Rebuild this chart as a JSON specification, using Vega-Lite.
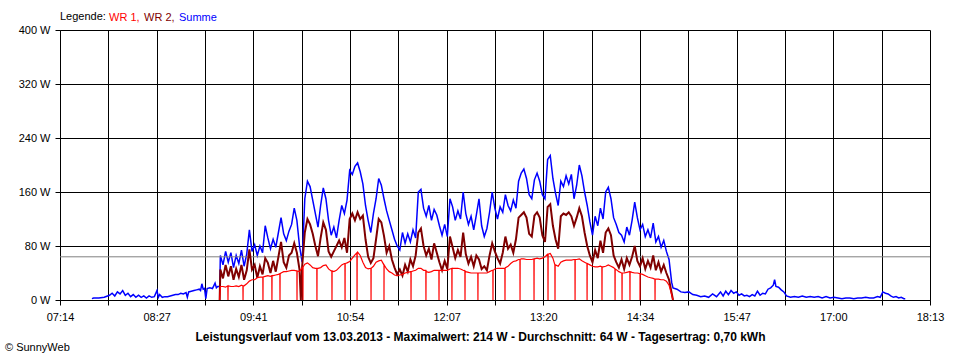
{
 "$schema": "https://vega.github.io/schema/vega-lite/v6.json",
 "width": 870, "height": 270,
 "autosize": "none",
 "padding": {"left": 60, "top": 30, "right": 30, "bottom": 60},
 "background": "white",
 "config": {
  "font": "Liberation Sans",
  "view": {"stroke": null},
  "axis": {"gridColor": "black", "gridOpacity": 1, "gridWidth": 1, "domainColor": "black", "domainWidth": 1, "tickColor": "black", "tickSize": 5, "labelColor": "black", "titleColor": "black", "labelFontSize": 11, "labelFont": "Liberation Sans", "titleFont": "Liberation Sans", "zindex": 1}
 },
 "title": {"text": "© SunnyWeb", "orient": "bottom", "anchor": "start", "frame": "group", "dx": -55, "fontSize": 11, "fontWeight": "normal", "color": "black", "font": "Liberation Sans", "offset": 0},
 "datasets": {
  "sum": [
   {"t":458.7,"v":2},{"t":460,"v":3},{"t":464,"v":3},{"t":468,"v":4},{"t":472,"v":7},{"t":474,"v":10},{"t":476,"v":6},{"t":478,"v":12},{"t":480,"v":9},{"t":482,"v":14},{"t":484,"v":7},{"t":486,"v":10},{"t":488,"v":5},{"t":490,"v":8},{"t":492,"v":4},{"t":494,"v":7},{"t":496,"v":4},{"t":498,"v":6},{"t":500,"v":3},{"t":502,"v":6},{"t":504,"v":4},{"t":506,"v":5},{"t":508,"v":14},{"t":509,"v":4},{"t":510,"v":8},{"t":512,"v":4},{"t":514,"v":5},{"t":516,"v":5},{"t":518,"v":6},{"t":520,"v":7},{"t":522,"v":8},{"t":524,"v":8},{"t":526,"v":10},{"t":528,"v":9},{"t":530,"v":11},{"t":531,"v":4},{"t":532,"v":12},{"t":534,"v":13},{"t":536,"v":14},{"t":538,"v":15},{"t":540,"v":16},{"t":541,"v":14},{"t":542,"v":24},{"t":543,"v":16},{"t":544,"v":17},{"t":545,"v":2},{"t":546,"v":17},{"t":548,"v":18},{"t":550,"v":17},{"t":552,"v":25},{"t":553,"v":18},{"t":554,"v":20},{"t":555.6,"v":20},
   {"t":556,"v":66},{"t":558,"v":52},{"t":560,"v":72},{"t":562,"v":56},{"t":564,"v":70},{"t":566,"v":48},{"t":568,"v":66},{"t":570,"v":54},{"t":572,"v":74},{"t":574,"v":50},{"t":576,"v":68},{"t":578,"v":104},{"t":580,"v":72},{"t":582,"v":82},{"t":584,"v":66},{"t":586,"v":80},{"t":588,"v":70},{"t":590,"v":110},{"t":592,"v":92},{"t":594,"v":76},{"t":596,"v":90},{"t":598,"v":78},{"t":600,"v":100},{"t":602,"v":122},{"t":604,"v":98},{"t":606,"v":88},{"t":608,"v":102},{"t":610,"v":112},{"t":612,"v":136},{"t":614,"v":118},{"t":616,"v":80},{"t":618,"v":56},{"t":620,"v":150},{"t":622,"v":176},{"t":624,"v":168},{"t":626,"v":148},{"t":628,"v":128},{"t":630,"v":108},{"t":632,"v":140},{"t":634,"v":166},{"t":636,"v":150},{"t":638,"v":118},{"t":640,"v":96},{"t":642,"v":108},{"t":644,"v":92},{"t":646,"v":118},{"t":648,"v":140},{"t":650,"v":128},{"t":652,"v":148},{"t":654,"v":192},{"t":656,"v":186},{"t":658,"v":198},{"t":660,"v":203},{"t":662,"v":190},{"t":664,"v":172},{"t":666,"v":140},{"t":668,"v":118},{"t":670,"v":100},{"t":672,"v":128},{"t":674,"v":150},{"t":676,"v":180},{"t":678,"v":170},{"t":680,"v":150},{"t":682,"v":132},{"t":684,"v":118},{"t":686,"v":104},{"t":688,"v":90},{"t":690,"v":80},{"t":692,"v":74},{"t":694,"v":100},{"t":696,"v":84},{"t":698,"v":98},{"t":700,"v":86},{"t":702,"v":104},{"t":704,"v":92},{"t":706,"v":160},{"t":708,"v":164},{"t":710,"v":136},{"t":712,"v":124},{"t":714,"v":140},{"t":716,"v":118},{"t":718,"v":134},{"t":720,"v":126},{"t":722,"v":110},{"t":724,"v":96},{"t":726,"v":112},{"t":728,"v":94},{"t":730,"v":150},{"t":732,"v":138},{"t":734,"v":118},{"t":736,"v":132},{"t":738,"v":120},{"t":740,"v":160},{"t":742,"v":128},{"t":744,"v":112},{"t":746,"v":124},{"t":748,"v":104},{"t":750,"v":126},{"t":752,"v":150},{"t":754,"v":110},{"t":756,"v":94},{"t":758,"v":106},{"t":760,"v":130},{"t":762,"v":160},{"t":764,"v":136},{"t":766,"v":120},{"t":768,"v":138},{"t":770,"v":130},{"t":772,"v":156},{"t":774,"v":140},{"t":776,"v":132},{"t":778,"v":148},{"t":780,"v":136},{"t":782,"v":176},{"t":784,"v":188},{"t":786,"v":194},{"t":788,"v":180},{"t":790,"v":156},{"t":792,"v":150},{"t":794,"v":178},{"t":796,"v":188},{"t":798,"v":176},{"t":800,"v":156},{"t":802,"v":150},{"t":804,"v":208},{"t":806,"v":214},{"t":808,"v":180},{"t":810,"v":158},{"t":812,"v":140},{"t":814,"v":176},{"t":816,"v":168},{"t":818,"v":184},{"t":820,"v":172},{"t":822,"v":186},{"t":824,"v":150},{"t":826,"v":170},{"t":828,"v":200},{"t":830,"v":184},{"t":832,"v":160},{"t":834,"v":140},{"t":836,"v":116},{"t":838,"v":96},{"t":840,"v":124},{"t":842,"v":110},{"t":844,"v":136},{"t":846,"v":120},{"t":848,"v":160},{"t":850,"v":167},{"t":852,"v":150},{"t":854,"v":122},{"t":856,"v":112},{"t":858,"v":100},{"t":860,"v":96},{"t":862,"v":86},{"t":864,"v":108},{"t":866,"v":96},{"t":868,"v":118},{"t":870,"v":145},{"t":872,"v":122},{"t":874,"v":104},{"t":876,"v":112},{"t":878,"v":94},{"t":880,"v":104},{"t":882,"v":92},{"t":884,"v":114},{"t":886,"v":86},{"t":888,"v":94},{"t":890,"v":78},{"t":892,"v":88},{"t":894,"v":72},{"t":896,"v":60},{"t":898,"v":26},
   {"t":899,"v":18},{"t":902,"v":16},{"t":905,"v":12},{"t":908,"v":11},{"t":911,"v":12},{"t":914,"v":8},{"t":917,"v":7},{"t":920,"v":5},{"t":923,"v":6},{"t":926,"v":4},{"t":929,"v":9},{"t":932,"v":5},{"t":935,"v":12},{"t":937,"v":6},{"t":939,"v":13},{"t":941,"v":8},{"t":943,"v":14},{"t":945,"v":10},{"t":947,"v":12},{"t":949,"v":7},{"t":951,"v":9},{"t":953,"v":6},{"t":955,"v":7},{"t":957,"v":5},{"t":959,"v":8},{"t":961,"v":6},{"t":963,"v":13},{"t":965,"v":7},{"t":967,"v":10},{"t":969,"v":9},{"t":971,"v":16},{"t":973,"v":18},{"t":975,"v":22},{"t":976,"v":30},{"t":977,"v":20},{"t":979,"v":19},{"t":981,"v":15},{"t":983,"v":12},{"t":985,"v":6},{"t":988,"v":4},{"t":991,"v":5},{"t":994,"v":4},{"t":997,"v":6},{"t":1000,"v":4},{"t":1003,"v":5},{"t":1006,"v":4},{"t":1009,"v":5},{"t":1012,"v":3},{"t":1015,"v":5},{"t":1018,"v":3},{"t":1021,"v":4},{"t":1024,"v":3},{"t":1027,"v":2},{"t":1030,"v":3},{"t":1033,"v":3},{"t":1036,"v":2},{"t":1039,"v":3},{"t":1042,"v":3},{"t":1045,"v":4},{"t":1048,"v":3},{"t":1051,"v":3},{"t":1054,"v":5},{"t":1056,"v":4},{"t":1057,"v":8},{"t":1058,"v":12},{"t":1060,"v":10},{"t":1062,"v":9},{"t":1064,"v":6},{"t":1066,"v":4},{"t":1068,"v":5},{"t":1070,"v":3},{"t":1072,"v":4},{"t":1074,"v":2},{"t":1075,"v":2}
  ],
  "wr2": [
   {"t":555.5,"v":0},
   {"t":556,"v":45},{"t":558,"v":32},{"t":560,"v":52},{"t":562,"v":35},{"t":564,"v":50},{"t":566,"v":30},{"t":568,"v":46},{"t":570,"v":34},{"t":572,"v":52},{"t":574,"v":30},{"t":576,"v":44},{"t":578,"v":75},{"t":580,"v":45},{"t":582,"v":52},{"t":584,"v":33},{"t":586,"v":50},{"t":588,"v":38},{"t":590,"v":62},{"t":592,"v":55},{"t":594,"v":40},{"t":596,"v":58},{"t":598,"v":42},{"t":600,"v":64},{"t":602,"v":86},{"t":604,"v":56},{"t":606,"v":48},{"t":608,"v":66},{"t":610,"v":70},{"t":612,"v":84},{"t":614,"v":70},{"t":616,"v":45},{"t":617,"v":0},{"t":618,"v":50},{"t":620,"v":100},{"t":622,"v":120},{"t":624,"v":112},{"t":626,"v":98},{"t":628,"v":80},{"t":630,"v":65},{"t":632,"v":92},{"t":634,"v":115},{"t":636,"v":104},{"t":638,"v":72},{"t":640,"v":64},{"t":642,"v":72},{"t":644,"v":80},{"t":646,"v":88},{"t":648,"v":78},{"t":650,"v":92},{"t":652,"v":70},{"t":654,"v":120},{"t":656,"v":128},{"t":658,"v":118},{"t":660,"v":130},{"t":662,"v":120},{"t":664,"v":125},{"t":666,"v":90},{"t":668,"v":64},{"t":670,"v":55},{"t":672,"v":62},{"t":674,"v":90},{"t":676,"v":120},{"t":678,"v":115},{"t":680,"v":95},{"t":682,"v":70},{"t":684,"v":80},{"t":686,"v":60},{"t":688,"v":48},{"t":690,"v":38},{"t":692,"v":45},{"t":694,"v":36},{"t":696,"v":52},{"t":698,"v":42},{"t":700,"v":60},{"t":702,"v":50},{"t":704,"v":66},{"t":706,"v":100},{"t":708,"v":106},{"t":710,"v":80},{"t":712,"v":66},{"t":714,"v":76},{"t":716,"v":60},{"t":718,"v":84},{"t":720,"v":70},{"t":722,"v":56},{"t":724,"v":44},{"t":726,"v":58},{"t":728,"v":46},{"t":730,"v":94},{"t":732,"v":78},{"t":734,"v":62},{"t":736,"v":74},{"t":738,"v":64},{"t":740,"v":100},{"t":742,"v":68},{"t":744,"v":54},{"t":746,"v":64},{"t":748,"v":50},{"t":750,"v":66},{"t":752,"v":60},{"t":754,"v":46},{"t":756,"v":50},{"t":758,"v":44},{"t":760,"v":66},{"t":762,"v":84},{"t":764,"v":72},{"t":766,"v":62},{"t":768,"v":54},{"t":770,"v":70},{"t":772,"v":94},{"t":774,"v":76},{"t":776,"v":82},{"t":778,"v":70},{"t":780,"v":90},{"t":782,"v":122},{"t":784,"v":126},{"t":786,"v":130},{"t":788,"v":122},{"t":790,"v":98},{"t":792,"v":94},{"t":794,"v":125},{"t":796,"v":130},{"t":798,"v":122},{"t":800,"v":96},{"t":802,"v":86},{"t":804,"v":138},{"t":806,"v":142},{"t":808,"v":110},{"t":810,"v":90},{"t":812,"v":76},{"t":814,"v":124},{"t":816,"v":128},{"t":818,"v":126},{"t":820,"v":130},{"t":822,"v":124},{"t":824,"v":110},{"t":826,"v":122},{"t":828,"v":136},{"t":830,"v":124},{"t":832,"v":100},{"t":834,"v":80},{"t":836,"v":66},{"t":838,"v":56},{"t":840,"v":74},{"t":842,"v":62},{"t":844,"v":88},{"t":846,"v":70},{"t":848,"v":100},{"t":850,"v":106},{"t":852,"v":96},{"t":854,"v":66},{"t":856,"v":56},{"t":858,"v":48},{"t":860,"v":60},{"t":862,"v":46},{"t":864,"v":62},{"t":866,"v":52},{"t":868,"v":64},{"t":870,"v":80},{"t":872,"v":58},{"t":874,"v":50},{"t":876,"v":62},{"t":878,"v":46},{"t":880,"v":58},{"t":882,"v":48},{"t":884,"v":66},{"t":886,"v":44},{"t":888,"v":56},{"t":890,"v":42},{"t":892,"v":52},{"t":894,"v":40},{"t":896,"v":30},{"t":898,"v":10},{"t":899,"v":0}
  ],
  "wr1": [
   {"t":555.5,"v":0},
   {"t":556,"v":20},{"t":558,"v":20},{"t":560,"v":19},{"t":562,"v":21},{"t":564,"v":20},{"t":566,"v":20},{"t":568,"v":21},{"t":570,"v":20},{"t":572,"v":22},{"t":574,"v":21},{"t":576,"v":24},{"t":578,"v":28},{"t":580,"v":30},{"t":582,"v":30},{"t":584,"v":33},{"t":586,"v":34},{"t":588,"v":34},{"t":590,"v":35},{"t":592,"v":36},{"t":594,"v":35},{"t":596,"v":36},{"t":598,"v":37},{"t":600,"v":38},{"t":602,"v":40},{"t":604,"v":42},{"t":606,"v":42},{"t":608,"v":43},{"t":610,"v":44},{"t":612,"v":44},{"t":614,"v":43},{"t":616,"v":42},{"t":618,"v":48},{"t":620,"v":53},{"t":622,"v":55},{"t":624,"v":52},{"t":626,"v":48},{"t":628,"v":47},{"t":630,"v":47},{"t":632,"v":48},{"t":634,"v":51},{"t":636,"v":52},{"t":638,"v":46},{"t":640,"v":43},{"t":642,"v":42},{"t":644,"v":44},{"t":646,"v":48},{"t":648,"v":52},{"t":650,"v":54},{"t":652,"v":55},{"t":654,"v":57},{"t":656,"v":62},{"t":658,"v":67},{"t":660,"v":71},{"t":662,"v":66},{"t":664,"v":56},{"t":666,"v":48},{"t":668,"v":46},{"t":670,"v":47},{"t":672,"v":50},{"t":674,"v":56},{"t":676,"v":58},{"t":678,"v":59},{"t":680,"v":52},{"t":682,"v":46},{"t":684,"v":42},{"t":686,"v":40},{"t":688,"v":37},{"t":690,"v":36},{"t":692,"v":37},{"t":694,"v":38},{"t":696,"v":40},{"t":698,"v":41},{"t":700,"v":42},{"t":702,"v":43},{"t":704,"v":44},{"t":706,"v":47},{"t":708,"v":47},{"t":710,"v":44},{"t":712,"v":42},{"t":714,"v":41},{"t":716,"v":42},{"t":718,"v":44},{"t":720,"v":44},{"t":722,"v":44},{"t":724,"v":44},{"t":726,"v":44},{"t":728,"v":44},{"t":730,"v":46},{"t":732,"v":47},{"t":734,"v":47},{"t":736,"v":47},{"t":738,"v":46},{"t":740,"v":44},{"t":742,"v":42},{"t":744,"v":41},{"t":746,"v":40},{"t":748,"v":40},{"t":750,"v":40},{"t":752,"v":40},{"t":754,"v":40},{"t":756,"v":40},{"t":758,"v":40},{"t":760,"v":42},{"t":762,"v":44},{"t":764,"v":46},{"t":766,"v":47},{"t":768,"v":47},{"t":770,"v":47},{"t":772,"v":48},{"t":774,"v":50},{"t":776,"v":54},{"t":778,"v":57},{"t":780,"v":58},{"t":782,"v":60},{"t":784,"v":61},{"t":786,"v":61},{"t":788,"v":60},{"t":790,"v":60},{"t":792,"v":60},{"t":794,"v":61},{"t":796,"v":62},{"t":798,"v":61},{"t":800,"v":62},{"t":802,"v":64},{"t":804,"v":68},{"t":806,"v":69},{"t":808,"v":62},{"t":810,"v":52},{"t":812,"v":50},{"t":814,"v":56},{"t":816,"v":58},{"t":818,"v":59},{"t":820,"v":59},{"t":822,"v":59},{"t":824,"v":60},{"t":826,"v":60},{"t":828,"v":61},{"t":830,"v":58},{"t":832,"v":56},{"t":834,"v":54},{"t":836,"v":52},{"t":838,"v":50},{"t":840,"v":49},{"t":842,"v":49},{"t":844,"v":50},{"t":846,"v":49},{"t":848,"v":50},{"t":850,"v":52},{"t":852,"v":50},{"t":854,"v":48},{"t":856,"v":45},{"t":858,"v":42},{"t":860,"v":40},{"t":862,"v":40},{"t":864,"v":41},{"t":866,"v":42},{"t":868,"v":41},{"t":870,"v":40},{"t":872,"v":40},{"t":874,"v":39},{"t":876,"v":38},{"t":878,"v":36},{"t":880,"v":34},{"t":882,"v":33},{"t":884,"v":32},{"t":886,"v":31},{"t":888,"v":31},{"t":890,"v":30},{"t":892,"v":30},{"t":894,"v":28},{"t":896,"v":22},{"t":898,"v":8},{"t":899,"v":0},
   {"t":561.7,"v":21},{"t":561.8,"v":0},{"t":561.9,"v":21},
   {"t":573.1,"v":21},{"t":573.2,"v":0},{"t":573.3,"v":21},
   {"t":588.2,"v":34},{"t":588.3,"v":0},{"t":588.4,"v":34},
   {"t":595.0,"v":36},{"t":595.1,"v":0},{"t":595.2,"v":36},
   {"t":601.1,"v":39},{"t":601.2,"v":0},{"t":601.3,"v":39},
   {"t":614.0,"v":43},{"t":614.1,"v":0},{"t":614.2,"v":43},
   {"t":618.5,"v":49},{"t":618.6,"v":0},{"t":618.7,"v":49},
   {"t":629.1,"v":47},{"t":629.2,"v":0},{"t":629.3,"v":47},
   {"t":640.5,"v":43},{"t":640.6,"v":0},{"t":640.7,"v":43},
   {"t":650.4,"v":54},{"t":650.5,"v":0},{"t":650.6,"v":54},
   {"t":659.5,"v":70},{"t":659.6,"v":0},{"t":659.7,"v":70},
   {"t":670.1,"v":47},{"t":670.2,"v":0},{"t":670.3,"v":47},
   {"t":679.9,"v":52},{"t":680.0,"v":0},{"t":680.1,"v":52},
   {"t":700.4,"v":42},{"t":700.5,"v":0},{"t":700.6,"v":42},
   {"t":711.7,"v":44},{"t":711.8,"v":0},{"t":711.9,"v":44},
   {"t":721.6,"v":44},{"t":721.7,"v":0},{"t":721.8,"v":44},
   {"t":731.4,"v":47},{"t":731.5,"v":0},{"t":731.6,"v":47},
   {"t":741.3,"v":43},{"t":741.4,"v":0},{"t":741.5,"v":43},
   {"t":751.1,"v":40},{"t":751.2,"v":0},{"t":751.3,"v":40},
   {"t":762.5,"v":44},{"t":762.6,"v":0},{"t":762.7,"v":44},
   {"t":771.6,"v":47},{"t":771.7,"v":0},{"t":771.8,"v":47},
   {"t":783.0,"v":60},{"t":783.1,"v":0},{"t":783.2,"v":60},
   {"t":793.6,"v":61},{"t":793.7,"v":0},{"t":793.8,"v":61},
   {"t":804.2,"v":68},{"t":804.3,"v":0},{"t":804.4,"v":68},
   {"t":809.5,"v":52},{"t":809.6,"v":0},{"t":809.7,"v":52},
   {"t":824.7,"v":60},{"t":824.8,"v":0},{"t":824.9,"v":60},
   {"t":833.8,"v":54},{"t":833.9,"v":0},{"t":834.0,"v":54},
   {"t":845.1,"v":49},{"t":845.2,"v":0},{"t":845.3,"v":49},
   {"t":855.0,"v":46},{"t":855.1,"v":0},{"t":855.2,"v":46},
   {"t":860.3,"v":40},{"t":860.4,"v":0},{"t":860.5,"v":40},
   {"t":866.3,"v":42},{"t":866.4,"v":0},{"t":866.5,"v":42},
   {"t":873.9,"v":39},{"t":874.0,"v":0},{"t":874.1,"v":39},
   {"t":885.3,"v":31},{"t":885.4,"v":0},{"t":885.5,"v":31}
  ]
 },
 "layer": [
  {
   "data": {"name": "sum"},
   "mark": {"type": "line", "strokeWidth": 1.5, "interpolate": "linear"},
   "encoding": {
    "x": {"field": "t", "type": "quantitative", "scale": {"domain": [434.5, 1093.75], "nice": false, "zero": false},
     "axis": {"values": [434.5, 471.125, 507.75, 544.375, 581, 617.625, 654.25, 690.875, 727.5, 764.125, 800.75, 837.375, 874, 910.625, 947.25, 983.875, 1020.5, 1057.125, 1093.75],
      "labelExpr": "(round((datum.value-434.5)/36.625) % 2 == 1) ? '' : (floor(datum.value/60) < 10 ? '0' : '') + floor(datum.value/60) + ':' + (floor(datum.value%60) < 10 ? '0' : '') + floor(datum.value%60)",
      "grid": true, "labelFlush": false, "labelOverlap": false, "labelPadding": 6,
      "title": "Leistungsverlauf vom 13.03.2013 - Maximalwert: 214 W - Durchschnitt: 64 W - Tagesertrag: 0,70 kWh",
      "titleFontWeight": "bold", "titleFontSize": 12, "titleX": 420, "titlePadding": 9}},
    "y": {"field": "v", "type": "quantitative", "scale": {"domain": [0, 400], "nice": false},
     "axis": {"values": [0, 80, 160, 240, 320, 400], "labelExpr": "datum.value + ' W'", "title": null, "grid": true, "labelPadding": 5}},
    "color": {"datum": "Summe", "type": "nominal", "scale": {"domain": ["WR 1", "WR 2", "Summe"], "range": ["#ff0000", "#800000", "#0000ff"]},
     "legend": {"title": "Legende:", "orient": "none", "legendX": 0, "legendY": -18, "direction": "horizontal", "titleOrient": "left", "titleFontWeight": "normal", "titleFontSize": 11, "titleColor": "black", "titleFont": "Liberation Sans", "titlePadding": 3, "labelFontSize": 11, "labelFont": "Liberation Sans", "labelOffset": -11, "symbolSize": 0, "symbolOpacity": 0, "symbolStrokeWidth": 0, "columnPadding": 4, "gridAlign": "none",
      "labelColor": {"expr": "datum.value == 'WR 1' ? '#ff0000' : datum.value == 'WR 2' ? '#800000' : '#0000ff'"},
      "labelExpr": "datum.value == 'Summe' ? datum.value : datum.value + ','"}}
   }
  },
  {
   "data": {"values": [{"avg": 64}]},
   "mark": {"type": "rule", "color": "#808080", "strokeWidth": 1},
   "encoding": {"y": {"field": "avg", "type": "quantitative"}}
  },
  {
   "data": {"name": "wr2"},
   "mark": {"type": "line", "strokeWidth": 2},
   "encoding": {
    "x": {"field": "t", "type": "quantitative"},
    "y": {"field": "v", "type": "quantitative"},
    "color": {"datum": "WR 2", "type": "nominal"}
   }
  },
  {
   "data": {"name": "wr1"},
   "mark": {"type": "line", "strokeWidth": 1.2},
   "encoding": {
    "x": {"field": "t", "type": "quantitative"},
    "y": {"field": "v", "type": "quantitative"},
    "color": {"datum": "WR 1", "type": "nominal"}
   }
  }
 ]
}
